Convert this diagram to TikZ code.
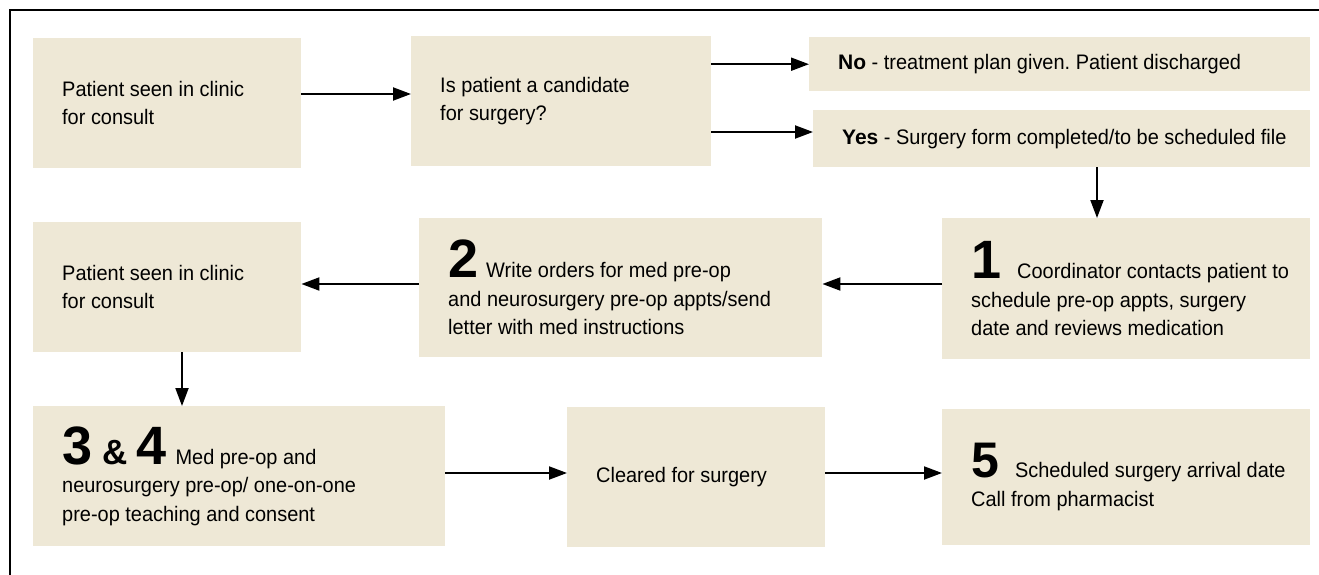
\documentclass[tikz,border=0pt]{standalone}
\usepackage{fontspec}
\setmainfont{Liberation Sans}[FakeStretch=0.95]
\newfontfamily\numfont{Liberation Sans}
\usetikzlibrary{arrows.meta}
\frenchspacing
\definecolor{boxfill}{RGB}{238,232,214}
\newcommand{\stepnum}[2][54]{{\numfont\bfseries\fontsize{#1}{#1}\selectfont #2}}
\newcommand{\yesno}[1]{{\numfont\bfseries #1}}
\tikzset{
  stepbox/.style 2 args={fill=boxfill, draw=none, anchor=north west, inner sep=0pt,
    minimum width=#1pt, minimum height=#2pt},
  steptext/.style={anchor=west, align=left, inner sep=0pt, xshift=29pt,
    font=\fontsize{21}{28.5}\selectfont},
  flow/.style={line width=2pt, -{Triangle[length=18pt,width=13pt]}}
}

\begin{document}
\begin{tikzpicture}[x=1pt,y=-1pt]
    \useasboundingbox (0,0) rectangle (1319,575);
    % Frame
    \draw[line width=1.3pt] (10,10) rectangle (1340,600);
    % Top row: consult and decision
    \node[stepbox={268}{130}] (seen) at (33,38) {};
    \node[steptext] (seen-t) at (seen.west) {Patient seen in clinic\\for consult};
    \node[stepbox={300}{130}] (candidate) at (411,36) {};
    \node[steptext] (candidate-t) at (candidate.west) {Is patient a candidate\\for surgery?};
    \node[stepbox={501}{54}] (no) at (809,37) {};
    \node[steptext] (no-t) at (no.west) {\yesno{No} - treatment plan given. Patient discharged};
    \node[stepbox={497}{57}] (yes) at (813,110) {};
    \node[steptext] (yes-t) at (yes.west) {\yesno{Yes} - Surgery form completed/to be scheduled file};
    % Middle row: steps 1 and 2
    \node[stepbox={268}{130}] (consult) at (33,222) {};
    \node[steptext] (consult-t) at (consult.west) {Patient seen in clinic\\for consult};
    \node[stepbox={403}{139}] (two) at (419,218) {};
    \node[steptext] (two-t) at (two.west) {\stepnum{2}\hspace{8pt}Write orders for med pre-op\\and neurosurgery pre-op appts/send\\letter with med instructions};
    \node[stepbox={368}{141}] (one) at (942,218) {};
    \node[steptext] (one-t) at (one.west) {\stepnum{1}\hspace{16pt}Coordinator contacts patient to\\schedule pre-op appts, surgery\\date and reviews medication};
    % Bottom row: steps 3 to 5
    \node[stepbox={412}{140}] (three) at (33,406) {};
    \node[steptext] (three-t) at (three.west) {\stepnum{3}\hspace{10pt}\stepnum[35]{\&}\hspace{9pt}\stepnum{4}\hspace{9pt}Med pre-op and\\neurosurgery pre-op/ one-on-one\\pre-op teaching and consent};
    \node[stepbox={258}{140}] (cleared) at (567,407) {};
    \node[steptext] (cleared-t) at (cleared.west) {Cleared for surgery};
    \node[stepbox={368}{136}] (five) at (942,409) {};
    \node[steptext] (five-t) at (five.west) {\stepnum[50]{5}\hspace{16pt}Scheduled surgery arrival date\\Call from pharmacist};
    % Connectors
    \coordinate (rowA) at (0,94);
    \coordinate (rowYes) at (0,132);
    \coordinate (colOne) at (1097,0);
    \coordinate (rowTwo) at (0,284);
    \coordinate (colThree) at (182,0);
    \coordinate (rowThree) at (0,473);
    \draw[flow] (seen.east |- rowA) -- (candidate.west |- rowA);
    \draw[flow] (candidate.east |- no.west) -- (no.west);
    \draw[flow] (candidate.east |- rowYes) -- (yes.west |- rowYes);
    \draw[flow] (colOne |- yes.south) -- (colOne |- one.north);
    \draw[flow] (one.west |- rowTwo) -- (two.east |- rowTwo);
    \draw[flow] (two.west |- rowTwo) -- (consult.east |- rowTwo);
    \draw[flow] (colThree |- consult.south) -- (colThree |- three.north);
    \draw[flow] (three.east |- rowThree) -- (cleared.west |- rowThree);
    \draw[flow] (cleared.east |- rowThree) -- (five.west |- rowThree);
\end{tikzpicture}
\end{document}
